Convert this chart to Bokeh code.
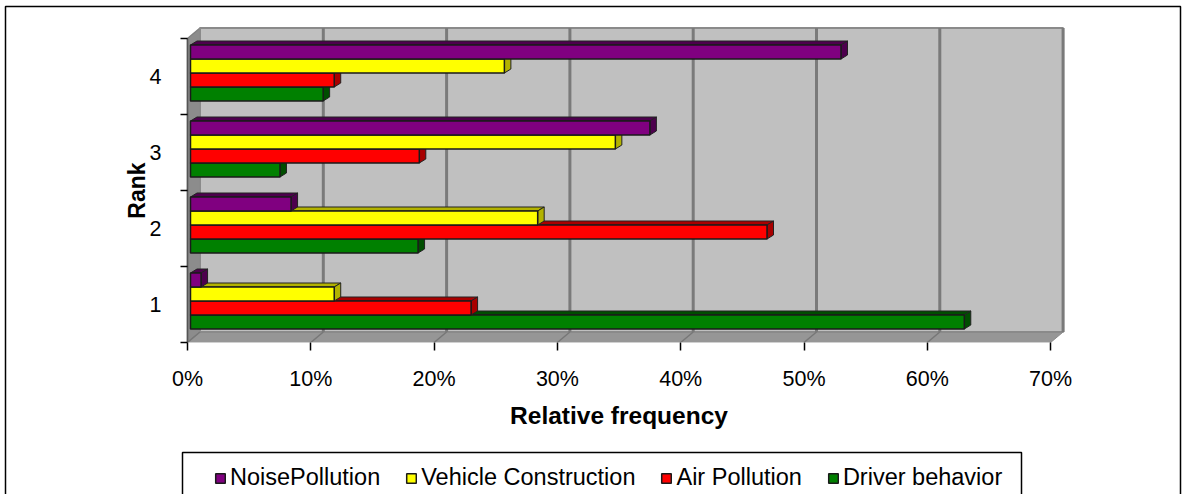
from bokeh.plotting import figure
from bokeh.models import Range1d, FixedTicker, Legend, LegendItem, BoxAnnotation
from bokeh.embed import file_html
from bokeh.resources import INLINE

ranks = ["1", "2", "3", "4"]
x_ticks = [0, 10, 20, 30, 40, 50, 60, 70]
noise = [1.1, 8.4, 37.5, 53.0]
vehicle = [11.9, 28.4, 34.7, 25.7]
air = [23.0, 47.0, 18.8, 11.9]
driver = [63.0, 18.7, 7.5, 11.0]

series = [
    ("NoisePollution", noise, "#800080", "#4d004d", 3),
    ("Vehicle Construction", vehicle, "#FFFF00", "#b3b300", 2),
    ("Air Pollution", air, "#FF0000", "#a80000", 1),
    ("Driver behavior", driver, "#008000", "#004d00", 0),
]

W, H = 1188, 494
X0, Y0 = 187, 342
PX_X = 12.33
PX_Y = 76.0
DX = 12.5 / PX_X
DY = 10.5 / PX_Y
BAR0 = 3 / PX_X
BAR_H = 14 / PX_Y
BAR_BASE = 13.5 / PX_Y
BDX = 6.5 / PX_X
BDY = 4 / PX_Y

p = figure(width=W, height=H, output_backend="svg", toolbar_location=None,
           x_range=Range1d(-X0 / PX_X, (W - X0) / PX_X), y_range=Range1d((Y0 - H) / PX_Y, Y0 / PX_Y),
           min_border=0, background_fill_color="white", border_fill_color="white")
p.outline_line_color = None
p.grid.visible = False

top = len(ranks)
xmax = x_ticks[-1]
p.patch([0, DX, DX, 0], [0, DY, top + DY, top], fill_color="#8c8c8c", line_color="#808080", line_width=1.5)
p.patch([0, xmax, xmax + DX, DX], [0, 0, DY, DY], fill_color="#969696", line_color="#8a8a8a", line_width=1)
p.patch([DX, xmax + DX, xmax + DX, DX], [DY, DY, top + DY, top + DY], fill_color="#C0C0C0",
        line_color="#8a8a8a", line_width=2)
p.multi_line([[t + DX, t + DX] for t in x_ticks[1:]], [[DY, top + DY] for _ in x_ticks[1:]],
             line_color="#7a7a7a", line_width=3)
p.multi_line([[t, t + DX] for t in x_ticks[:-1]], [[0, DY] for _ in x_ticks[:-1]],
             line_color="#777777", line_width=1.5)

legend_glyphs = {}
for r in reversed(range(len(ranks))):
    for name, vals, col, dark, slot in reversed(series):
        v = vals[r]
        y0 = r + BAR_BASE + slot * BAR_H
        y1 = y0 + BAR_H
        p.patch([BAR0, BAR0 + BDX, v + BDX, v], [y1, y1 + BDY, y1 + BDY, y1],
                fill_color=dark, line_color="#222222", line_width=1)
        p.patch([v, v + BDX, v + BDX, v], [y0, y0 + BDY, y1 + BDY, y1],
                fill_color=dark, line_color="#222222", line_width=1)
        g = p.quad(left=[BAR0], right=[v], bottom=[y0], top=[y1],
                   fill_color=col, line_color="#1a1a1a", line_width=1.5)
        legend_glyphs[name] = g

items = [LegendItem(label=s[0], renderers=[legend_glyphs[s[0]]]) for s in series]

FONT = "Liberation Sans"
xa = p.xaxis[0]
xa.fixed_location = 0
xa.bounds = (0, xmax)
xa.ticker = FixedTicker(ticks=x_ticks)
xa.major_label_overrides = {t: f"{t}%" for t in x_ticks}
xa.axis_line_color = "#d0d0d0"
xa.major_tick_line_color = "black"
xa.major_tick_line_width = 1.5
xa.major_tick_out = 8
xa.major_tick_in = 0
xa.minor_tick_out = 0
xa.minor_tick_in = 0
xa.major_label_text_font = FONT
xa.major_label_text_font_size = "21.5px"
xa.major_label_text_color = "black"
xa.major_label_standoff = 16
xa.axis_label = "Relative frequency"
xa.axis_label_text_font = FONT
xa.axis_label_text_font_size = "24.5px"
xa.axis_label_text_font_style = "bold"
xa.axis_label_text_color = "black"
xa.axis_label_standoff = 8

ya = p.yaxis[0]
ya.fixed_location = 0
ya.bounds = (0, top)
ya.ticker = FixedTicker(ticks=[i + 0.5 for i in range(4)], minor_ticks=list(range(5)))
ya.major_label_overrides = {i + 0.5: ranks[i] for i in range(4)}
ya.axis_line_color = "#555555"
ya.axis_line_width = 1.5
ya.major_tick_out = 0
ya.major_tick_in = 0
ya.minor_tick_line_color = "black"
ya.minor_tick_line_width = 1.5
ya.minor_tick_out = 7
ya.minor_tick_in = 0
ya.major_label_text_font = FONT
ya.major_label_text_font_size = "21.5px"
ya.major_label_text_color = "black"
ya.major_label_standoff = 19
ya.axis_label = "Rank"
ya.axis_label_text_font = FONT
ya.axis_label_text_font_size = "23px"
ya.axis_label_text_font_style = "bold"
ya.axis_label_text_color = "black"
ya.axis_label_standoff = -3

legend = Legend(items=items, orientation="horizontal", location=(206, 3),
                label_text_font=FONT, label_text_font_size="23.5px", label_text_color="black",
                glyph_width=12, glyph_height=12, label_standoff=4, spacing=25,
                padding=8, margin=0, label_height=20,
                border_line_color=None, background_fill_alpha=0)
legend.location = (214, 3)
p.add_layout(legend, "center")

for left, right, top_px in [(5, 1180, 6), (182, 1021, 452)]:
    p.add_layout(BoxAnnotation(left=left, right=right, top=top_px, bottom=H + 20,
                               left_units="canvas", right_units="canvas",
                               top_units="canvas", bottom_units="canvas",
                               fill_alpha=0, line_color="black", line_width=1.5, line_alpha=1))

open("out.html", "w").write(file_html(p, INLINE))
